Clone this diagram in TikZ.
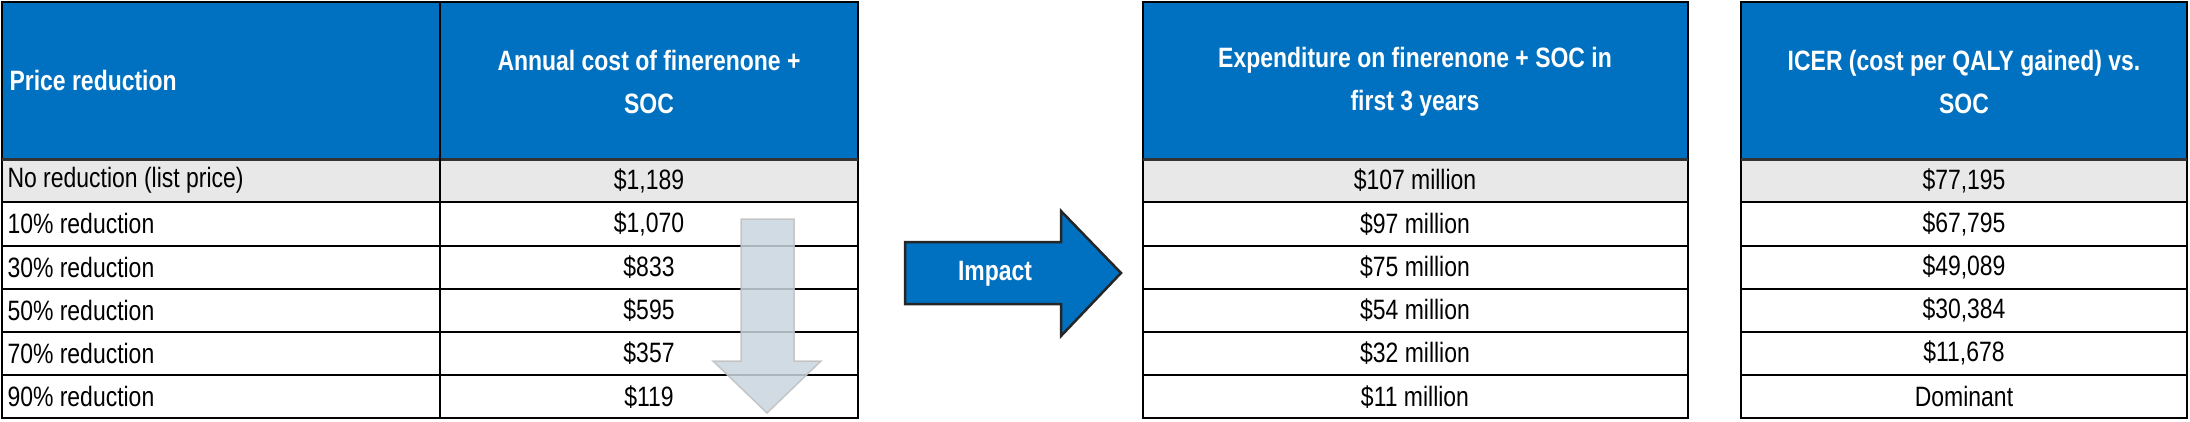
\documentclass[tikz,border=0pt]{standalone}
\usepackage{fontspec}
\setmainfont{Liberation Sans}[FakeStretch=0.82]
\definecolor{hdr}{HTML}{0070C0}
\definecolor{grayrow}{HTML}{E8E8E8}
\definecolor{garrow}{HTML}{C8D5DE}
\begin{document}
\begin{tikzpicture}[x=1pt,y=-1pt,
  cell/.style={draw=black,line width=2pt},
  htxt/.style={text=white,font=\bfseries\fontsize{28}{43}\selectfont,align=center},
  btxt/.style={font=\fontsize{28}{30}\selectfont,anchor=center}]
\useasboundingbox (0,0) rectangle (2190,421);
\fill[hdr] (2,2) rectangle (858,159);
\fill[grayrow] (2,159) rectangle (858,202);
\fill[hdr] (1143,2) rectangle (1688,159);
\fill[grayrow] (1143,159) rectangle (1688,202);
\fill[hdr] (1741,2) rectangle (2187,159);
\fill[grayrow] (1741,159) rectangle (2187,202);
\foreach \a/\b in {2/858,1143/1688,1741/2187}{
  \draw[cell] (\a,2) rectangle (\b,418);
  \foreach \y in {159,202,246,289,332,375}{\draw[cell] (\a,\y) -- (\b,\y);}
  \draw[line width=3pt,black!80] (\a,159) -- (\b,159);
}
\draw[cell] (440,2) -- (440,418);
% gray arrow
\draw[draw=gray!50,fill=garrow,opacity=0.85,line width=1.5pt]
  (741,219) -- (794,219) -- (794,361) -- (821,361) -- (767,413) -- (713,361) -- (741,361) -- cycle;
% headers
\node[htxt,anchor=west,align=left] (h1) at (6,80) {Price reduction};
\node[htxt] (h2) at (649,82) {Annual cost of finerenone +\\SOC};
\node[htxt] (h3) at (1415,82) {Expenditure on finerenone + SOC in\\first 3 years};
\node[htxt] (h4) at (1964,82) {ICER (cost per QALY gained) vs.\\SOC};
% body
\foreach \t/\c/\d/\e [count=\i] in {
 {No reduction (list price)}/{\$1,189}/{\$107 million}/{\$77,195},
 {10\% reduction}/{\$1,070}/{\$97 million}/{\$67,795},
 {30\% reduction}/{\$833}/{\$75 million}/{\$49,089},
 {50\% reduction}/{\$595}/{\$54 million}/{\$30,384},
 {70\% reduction}/{\$357}/{\$32 million}/{\$11,678},
 {90\% reduction}/{\$119}/{\$11 million}/{Dominant}}{
  \pgfmathsetmacro{\yy}{159+43.2*(\i-0.5)}
  \node[btxt,anchor=west] (a\i) at (4,\yy) {\t};
  \node[btxt] (b\i) at (649,\yy) {\c};
  \node[btxt] (c\i) at (1415,\yy) {\d};
  \node[btxt] (d\i) at (1964,\yy) {\e};
}
% impact arrow
\draw[fill=hdr,draw=black!85,line width=2.5pt]
  (905,242) -- (1061,242) -- (1061,211) -- (1121,273) -- (1061,336) -- (1061,304) -- (905,304) -- cycle;
\node[text=white,font=\bfseries\fontsize{28}{30}\selectfont] (imp) at (995,274) {Impact};
\end{tikzpicture}
\end{document}
